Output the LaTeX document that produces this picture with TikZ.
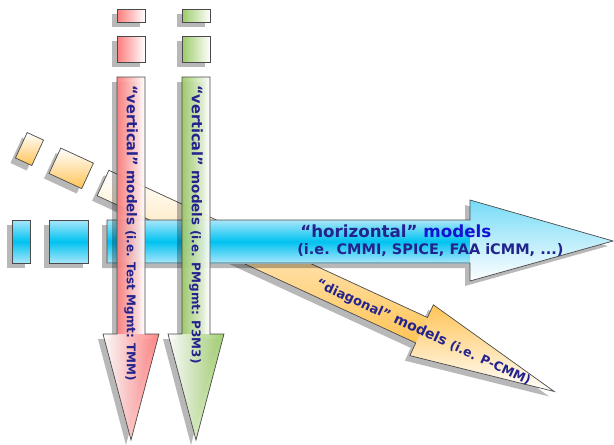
\documentclass[tikz,border=0pt]{standalone}
\usepackage{fontspec}
\setmainfont{DejaVu Sans}
\usetikzlibrary{calc}
\definecolor{vred}{HTML}{ff7c7c}
\definecolor{vgreen}{HTML}{9ccb68}
\definecolor{hblue}{HTML}{00c2f0}
\definecolor{hlight}{HTML}{a8e6fa}
\definecolor{dorange}{HTML}{ffc456}
\definecolor{txtnavy}{HTML}{23238e}
\definecolor{txtblue}{HTML}{1212d2}
\definecolor{edgegray}{HTML}{4a4a4a}

\begin{document}
\begin{tikzpicture}[x=1pt, y=-1pt, line width=0.7pt]
    \tikzstyle{dropshade}=[fill=black, fill opacity=0.28, draw=none]
    \tikzstyle{rim}=[draw=edgegray, line join=miter]
    \tikzstyle{vtxt}=[rotate=-90, anchor=west, inner sep=0pt, text=txtnavy]
    \useasboundingbox (0,0) rectangle (614,445);

    % diagonal
    \begin{scope}[shift={(98,188)}, rotate=-24.8]
        \fill[dropshade] (-90,-14) rectangle (-72,14);
        \fill[dropshade] (-53,-14) rectangle (-17,14);
        \fill[dropshade] (0,-14) -- (351,-14) -- (351,-28) -- (497,0) -- (351,28) -- (351,14) -- (0,14) -- cycle;
    \end{scope}
    \begin{scope}[shift={(103,183)}, rotate=-24.8]
        \shade[rim, top color=white, bottom color=dorange] (-90,-14) rectangle (-72,14);
        \shade[rim, top color=white, bottom color=dorange] (-53,-14) rectangle (-17,14);
        \shade[top color=white, bottom color=dorange] (0,-14) rectangle (351,14);
        \shade[top color=dorange, bottom color=white] (351,-28) -- (497,0) -- (351,28) -- cycle;
        \draw[rim] (0,-14) -- (351,-14) -- (351,-28) -- (497,0) -- (351,28) -- (351,14) -- (0,14) -- cycle;
        \node[transform shape, anchor=base west, inner sep=0pt, text=txtnavy] (dtxt) at (236,5)
            {\bfseries\fontsize{13}{15}\selectfont “diagonal”\fontsize{14}{16}\selectfont\ models \fontsize{12.5}{14}\selectfont(i.e. P-CMM)};
    \end{scope}

    % horizontal
    \begin{scope}[shift={(-5,5)}]
        \fill[dropshade] (12,220) rectangle (30,263);
        \fill[dropshade] (49,220) rectangle (88,263);
        \fill[dropshade] (107,220) -- (470,220) -- (470,200) -- (613,241) -- (470,281) -- (470,263) -- (107,263) -- cycle;
    \end{scope}
    \shade[rim, top color=hlight, bottom color=hlight, middle color=hblue] (12,220) rectangle (30,263);
    \shade[rim, top color=hlight, bottom color=hlight, middle color=hblue] (49,220) rectangle (88,263);
    \shade[top color=hlight, bottom color=hlight, middle color=hblue] (107,220) rectangle (470,263);
    \shade[top color=hlight!70!hblue, bottom color=white] (470,200) -- (613,241) -- (470,281) -- cycle;
    \draw[rim] (107,220) -- (470,220) -- (470,200) -- (613,241) -- (470,281) -- (470,263) -- (107,263) -- cycle;
    \node[anchor=west, inner sep=0pt, text=txtblue] (htitle) at (300,231)
        {\fontsize{16.7}{18}\selectfont\bfseries{\color{txtnavy}“horizontal”} models};
    \node[anchor=west, inner sep=0pt, text=txtnavy] (hsub) at (297,250)
        {\fontsize{14.5}{16}\selectfont\bfseries (i.e. CMMI, SPICE, FAA iCMM, ...)};

    % vertical
    \foreach \xo/\col/\nm/\lbl in {0/vred/vredtxt/Test Mgmt: TMM, 65/vgreen/vgreentxt/PMgmt: P3M3} {
        \begin{scope}[xshift=\xo]
            \begin{scope}[shift={(-5,5)}]
                \fill[dropshade] (117,9) rectangle (145,22);
                \fill[dropshade] (117,36) rectangle (145,62);
                \fill[dropshade] (117,77) -- (145,77) -- (145,334) -- (159,334) -- (131,440) -- (103,334) -- (117,334) -- cycle;
            \end{scope}
            \shade[rim, left color=\col, right color=white] (117,9) rectangle (145,22);
            \shade[rim, left color=\col, right color=white] (117,36) rectangle (145,62);
            \shade[fill opacity=0.93, left color=\col, right color=white] (117,77) rectangle (145,334);
            \shade[fill opacity=0.93, left color=white, right color=\col] (103,334) -- (159,334) -- (131,440) -- cycle;
            \draw[rim] (117,77) -- (145,77) -- (145,334) -- (159,334) -- (131,440) -- (103,334) -- (117,334) -- cycle;
            \node[vtxt] (\nm) at (131,85)
                {\bfseries\fontsize{14.5}{16}\selectfont “vertical”\fontsize{13.5}{15}\selectfont\ models \fontsize{12}{14}\selectfont(i.e. \lbl)};
        \end{scope}
    }
\end{tikzpicture}
\end{document}
